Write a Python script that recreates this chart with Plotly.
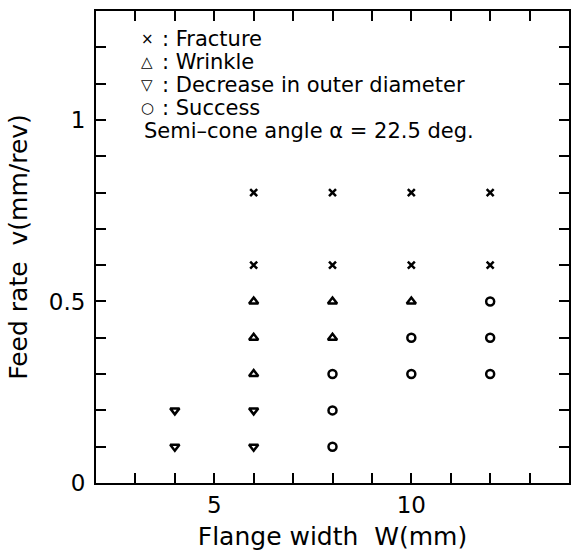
import plotly.graph_objects as go

# Data (flange width W in mm, feed rate v in mm/rev)
fracture_w = [6, 8, 10, 12, 6, 8, 10, 12]
fracture_v = [0.8, 0.8, 0.8, 0.8, 0.6, 0.6, 0.6, 0.6]
wrinkle_w = [6, 6, 6, 8, 8, 10]
wrinkle_v = [0.3, 0.4, 0.5, 0.4, 0.5, 0.5]
decrease_w = [4, 4, 6, 6]
decrease_v = [0.1, 0.2, 0.1, 0.2]
success_w = [8, 8, 8, 10, 10, 12, 12, 12]
success_v = [0.1, 0.2, 0.3, 0.3, 0.4, 0.3, 0.4, 0.5]

legend_symbols = ["×", "△", "▽", "○"]
legend_labels = [": Fracture", ": Wrinkle", ": Decrease in outer diameter", ": Success"]
note_text = "Semi–cone angle α = 22.5 deg."
x_ticks = [5, 10]
y_ticks = [0, 0.5, 1]
y_tick_text = ["0", "0.5", "1"]

FONT = "DejaVu Sans, Arial, sans-serif"

fig = go.Figure()
mk = dict(color="black", line=dict(color="black", width=2.5))
fig.add_trace(go.Scatter(x=fracture_w, y=fracture_v, mode="markers",
                         marker=dict(symbol="x-thin-open", size=7, **mk)))
fig.add_trace(go.Scatter(x=wrinkle_w, y=wrinkle_v, mode="markers",
                         marker=dict(symbol="triangle-up-open", size=8, **mk)))
fig.add_trace(go.Scatter(x=decrease_w, y=decrease_v, mode="markers",
                         marker=dict(symbol="triangle-down-open", size=8, **mk)))
fig.add_trace(go.Scatter(x=success_w, y=success_v, mode="markers",
                         marker=dict(symbol="circle-open", size=8, **mk)))

ys = [0.9407, 0.8919, 0.8432, 0.7945]
for sym, lab, yy in zip(legend_symbols, legend_labels, ys):
    fig.add_annotation(text=sym, xref="paper", yref="paper", x=0.108, y=yy,
                       xanchor="center", yanchor="middle", showarrow=False,
                       font=dict(family=FONT, size=15, color="black"))
    fig.add_annotation(text=lab, xref="paper", yref="paper", x=0.1347, y=yy,
                       xanchor="left", yanchor="middle", showarrow=False,
                       font=dict(family=FONT, size=21, color="black"))
fig.add_annotation(text=note_text, xref="paper", yref="paper", x=0.097, y=0.746,
                   xanchor="left", yanchor="middle", showarrow=False,
                   font=dict(family=FONT, size=21, color="black"))

axis_common = dict(showline=True, linecolor="black", linewidth=2, mirror="ticks",
                   ticks="inside", ticklen=10, tickwidth=1.5, tickcolor="black",
                   showgrid=False, zeroline=False,
                   tickfont=dict(family=FONT, size=23, color="black"))

fig.update_xaxes(range=[2, 14],
                 tickvals=list(range(2, 15)),
                 ticktext=[str(v) if v in x_ticks else "" for v in range(2, 15)],
                 title=dict(text="Flange width  W(mm)", standoff=11,
                            font=dict(family=FONT, size=25, color="black")),
                 **axis_common)
yv = [round(i * 0.1, 1) for i in range(0, 14)]
fig.update_yaxes(range=[0, 1.3],
                 tickvals=yv,
                 ticktext=[y_tick_text[y_ticks.index(v)] if v in y_ticks else "" for v in yv],
                 ticklabelstandoff=4,
                 title=dict(text="Feed rate  v(mm/rev)", standoff=14,
                            font=dict(family=FONT, size=25, color="black")),
                 **axis_common)

fig.update_layout(width=571, height=558, showlegend=False,
                  margin=dict(l=96, r=0, t=11, b=75),
                  plot_bgcolor="white", paper_bgcolor="white")

fig.write_html("out.html", config={"displayModeBar": False},
               post_script="document.body.style.margin='0';document.body.style.overflow='hidden';")
